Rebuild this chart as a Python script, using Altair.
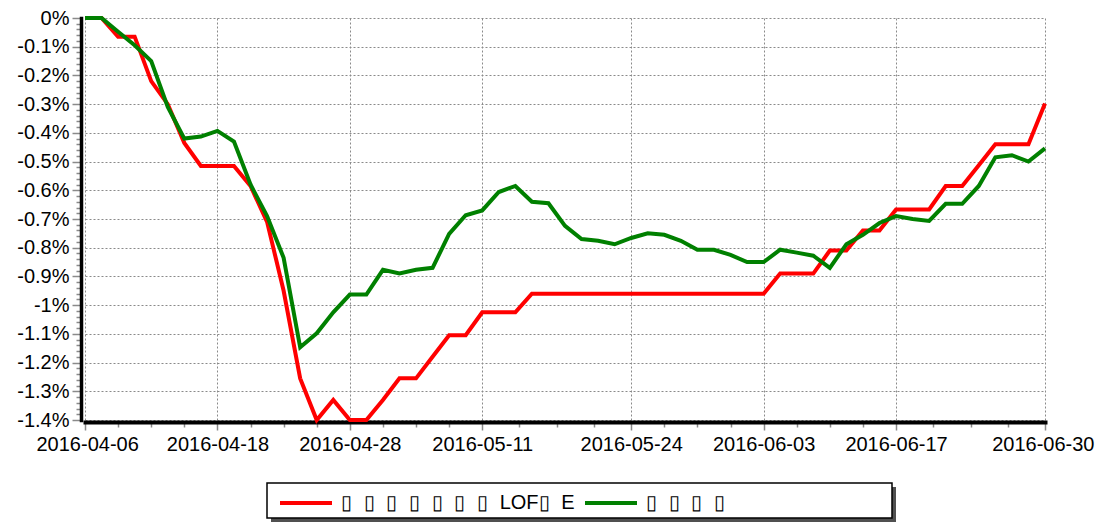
import altair as alt
import pandas as pd

FONT = "Liberation Sans"

dates = [
    "2016-04-06", "2016-04-07", "2016-04-08", "2016-04-11", "2016-04-12", "2016-04-13",
    "2016-04-14", "2016-04-15", "2016-04-18", "2016-04-19", "2016-04-20", "2016-04-21",
    "2016-04-22", "2016-04-25", "2016-04-26", "2016-04-27", "2016-04-28", "2016-04-29",
    "2016-05-03", "2016-05-04", "2016-05-05", "2016-05-06", "2016-05-09", "2016-05-10",
    "2016-05-11", "2016-05-12", "2016-05-13", "2016-05-16", "2016-05-17", "2016-05-18",
    "2016-05-19", "2016-05-20", "2016-05-23", "2016-05-24", "2016-05-25", "2016-05-26",
    "2016-05-27", "2016-05-30", "2016-05-31", "2016-06-01", "2016-06-02", "2016-06-03",
    "2016-06-06", "2016-06-07", "2016-06-08", "2016-06-13", "2016-06-14", "2016-06-15",
    "2016-06-16", "2016-06-17", "2016-06-20", "2016-06-21", "2016-06-22", "2016-06-23",
    "2016-06-24", "2016-06-27", "2016-06-28", "2016-06-29", "2016-06-30",
]

SEP = "\u2002\u200a"
red_name = SEP.join(["▯"] * 7) + SEP + "LOF▯" + SEP + "E"
green_name = SEP.join(["▯"] * 4)

red_vals = [
    0, 0, -0.065, -0.065, -0.22, -0.30, -0.435, -0.515, -0.515, -0.515,
    -0.585, -0.71, -0.95, -1.255, -1.40, -1.33, -1.40, -1.40, -1.33, -1.255,
    -1.255, -1.18, -1.105, -1.105, -1.025, -1.025, -1.025, -0.96, -0.96, -0.96,
    -0.96, -0.96, -0.96, -0.96, -0.96, -0.96, -0.96, -0.96, -0.96, -0.96,
    -0.96, -0.96, -0.89, -0.89, -0.89, -0.81, -0.81, -0.74, -0.74, -0.667,
    -0.667, -0.667, -0.585, -0.585, -0.513, -0.44, -0.44, -0.44, -0.298,
]

green_vals = [
    0, 0, -0.048, -0.095, -0.15, -0.31, -0.42, -0.413, -0.393, -0.43,
    -0.58, -0.69, -0.835, -1.147, -1.098, -1.025, -0.963, -0.963, -0.877, -0.89,
    -0.877, -0.87, -0.752, -0.687, -0.67, -0.606, -0.585, -0.64, -0.645, -0.724,
    -0.77, -0.776, -0.788, -0.766, -0.75, -0.755, -0.776, -0.807, -0.807, -0.825,
    -0.85, -0.85, -0.807, -0.817, -0.828, -0.87, -0.788, -0.755, -0.714, -0.69,
    -0.70, -0.707, -0.647, -0.647, -0.585, -0.485, -0.478, -0.50, -0.454,
]

major_dates = ["2016-04-06", "2016-04-18", "2016-04-28", "2016-05-11",
               "2016-05-24", "2016-06-03", "2016-06-17", "2016-06-30"]
y_major = [0, -0.1, -0.2, -0.3, -0.4, -0.5, -0.6, -0.7, -0.8, -0.9, -1.0,
           -1.1, -1.2, -1.3, -1.4]

major_idx = [dates.index(d) for d in major_dates]
minor_idx = []
for a, b in zip(major_idx[:-1], major_idx[1:]):
    for k in (1, 2, 3):
        minor_idx.append(a + k * (b - a) / 4)
y_minor = [round(-k * 0.02, 2) for k in range(71) if k % 5 != 0]

rows = []
for i, d in enumerate(dates):
    rows.append({"i": i, "date": d, "series": red_name, "value": red_vals[i]})
for i, d in enumerate(dates):
    rows.append({"i": i, "date": d, "series": green_name, "value": green_vals[i]})
df = pd.DataFrame(rows)

label_expr = " : ".join(
    f"datum.value == {idx} ? '{d}'" for idx, d in zip(major_idx, major_dates)
) + " : ''"

xscale = alt.Scale(domain=[0, len(dates) - 1], nice=False, zero=False)
yscale = alt.Scale(domain=[-1.4, 0], nice=False, zero=False)

GRID = "#8a8a8a"
TICK = "#8a8a8a"

lines = alt.Chart(df).mark_line(strokeWidth=4).encode(
    x=alt.X("i:Q", scale=xscale, axis=alt.Axis(
        values=major_idx, labelExpr=label_expr, orient="bottom", title=None,
        grid=True, gridDash=[2, 2], gridColor=GRID, gridWidth=1,
        tickSize=8, tickColor=TICK, tickWidth=1.5,
        domainColor="black", domainWidth=4, domainCap="square", offset=2,
        labelFont=FONT, labelFontSize=20, labelColor="black", labelPadding=4,
        labelFlush=True, labelFlushOffset=49, labelOverlap=False)),
    y=alt.Y("value:Q", scale=yscale, axis=alt.Axis(
        values=y_major, labelExpr="(round(datum.value*10)/10) + '%'",
        orient="left", title=None,
        grid=True, gridDash=[2, 2], gridColor=GRID, gridWidth=1,
        tickSize=9, tickColor=TICK, tickWidth=1.5,
        domainColor="black", domainWidth=3.5, domainCap="square", offset=4,
        labelFont=FONT, labelFontSize=20, labelColor="black", labelPadding=3,
        labelOverlap=False)),
    color=alt.Color("series:N", scale=alt.Scale(
        domain=[red_name, green_name], range=["#ff0000", "#008000"]),
        legend=alt.Legend(
            orient="none", legendX=193, legendY=457, direction="horizontal",
            title=None, symbolType="stroke", symbolSize=2704,
            symbolStrokeWidth=4, labelFont=FONT, labelFontSize=20,
            labelColor="black", labelOffset=7, columnPadding=2, padding=0,
            labelLimit=600, zindex=1)),
)

minor = alt.Chart(df).mark_line(opacity=0).encode(
    x=alt.X("i:Q", scale=xscale, axis=alt.Axis(
        values=minor_idx, orient="bottom", title=None, labels=False, grid=False,
        domain=False, tickSize=5, tickColor=TICK, tickWidth=1.5, offset=2)),
    y=alt.Y("value:Q", scale=yscale, axis=alt.Axis(
        values=y_minor, orient="left", title=None, labels=False, grid=False,
        domain=False, tickSize=5, tickColor=TICK, tickWidth=1.5, offset=4)),
    detail="series:N",
)

box_df = pd.DataFrame({"k": [0]})
shadow = alt.Chart(box_df).mark_rect(color="#505050").encode(
    x=alt.value(186), x2=alt.value(811), y=alt.value(469), y2=alt.value(504))
box = alt.Chart(box_df).mark_rect(fill="white", stroke="black", strokeWidth=1.5).encode(
    x=alt.value(182), x2=alt.value(807), y=alt.value(465), y2=alt.value(500))

chart = alt.layer(shadow, box, minor, lines).resolve_axis(
    x="independent", y="independent"
).properties(
    width=960, height=402, autosize="none",
    padding={"left": 77, "top": 10, "right": 50, "bottom": 102},
    background="white",
).configure_view(stroke=None)

chart.save("out.html", embed_options={"renderer": "svg", "actions": False})
